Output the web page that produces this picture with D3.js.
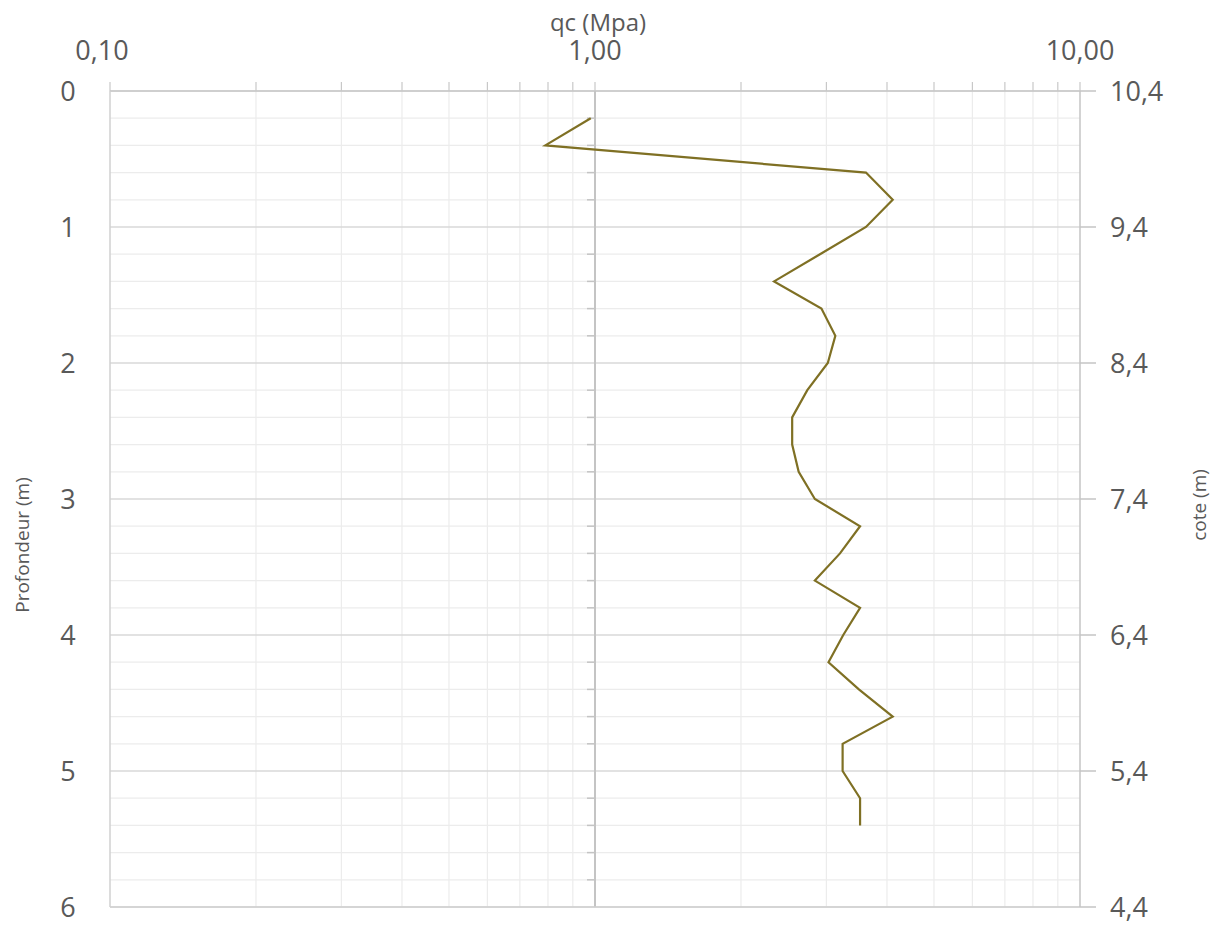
<!DOCTYPE html>
<html>
<head>
<meta charset="utf-8">
<script src="https://d3js.org/d3.v7.min.js"></script>
<style>
  body { margin: 0; background: #fff; }
  text { font-family: "Open Sans", "Noto Sans", sans-serif; fill: #595959; }
</style>
</head>
<body>
<div id="chart"></div>
<script>
// profondeur (m) et qc (MPa)
var profondeur = [0.2, 0.4, 0.6, 0.8, 1.0, 1.2, 1.4, 1.6, 1.8, 2.0, 2.2, 2.4, 2.6, 2.8,
                  3.0, 3.2, 3.4, 3.6, 3.8, 4.0, 4.2, 4.4, 4.6, 4.8, 5.0, 5.2, 5.4];
var qc = [0.98, 0.79, 3.62, 4.11, 3.62, 2.91, 2.34, 2.93, 3.13, 3.02, 2.74, 2.55, 2.55, 2.63,
          2.84, 3.52, 3.20, 2.84, 3.52, 3.25, 3.03, 3.50, 4.11, 3.24, 3.24, 3.52, 3.52];
var xTicks = [0.1, 1, 10];
var yTicks = [0, 1, 2, 3, 4, 5, 6];
var coteTicks = [10.4, 9.4, 8.4, 7.4, 6.4, 5.4, 4.4];

var W = 1222, H = 926;
var mLeft = 110, mRight = 1080, mTop = 91, mBottom = 907;

var svg = d3.select("#chart").append("svg")
    .attr("width", W).attr("height", H);

var x = d3.scaleLog().domain([0.1, 10]).range([mLeft, mRight]);
var y = d3.scaleLinear().domain([0, 6]).range([mTop, mBottom]);
var y2 = d3.scaleLinear().domain([10.4, 4.4]).range([mTop, mBottom]);

// sous-graduations
var minorX = [];
[0.1, 1].forEach(function(d) {
    for (var k = 2; k <= 9; k++) minorX.push(d * k);
});
var minorY = d3.range(0, 30).map(function(i) { return i * 0.2; })
    .filter(function(d) { return Math.abs(d - Math.round(d)) > 1e-6; });

var grid = svg.append("g");
grid.selectAll(".vmin").data(minorX).enter().append("line")
    .attr("x1", function(d) { return x(d); }).attr("x2", function(d) { return x(d); })
    .attr("y1", mTop).attr("y2", mBottom)
    .attr("stroke", "#ececec").attr("stroke-width", 1.2);
grid.selectAll(".hmin").data(minorY).enter().append("line")
    .attr("x1", mLeft).attr("x2", mRight)
    .attr("y1", function(d) { return y(d); }).attr("y2", function(d) { return y(d); })
    .attr("stroke", "#ececec").attr("stroke-width", 1.2);
grid.selectAll(".hmaj").data(yTicks).enter().append("line")
    .attr("x1", mLeft).attr("x2", mRight)
    .attr("y1", function(d) { return y(d); }).attr("y2", function(d) { return y(d); })
    .attr("stroke", "#d9d9d9").attr("stroke-width", 1.5);

// axe du haut (qc)
var axisTop = svg.append("g");
axisTop.append("line").attr("x1", mLeft).attr("x2", mRight)
    .attr("y1", mTop).attr("y2", mTop).attr("stroke", "#c8c8c8").attr("stroke-width", 1.5);
axisTop.selectAll(".tk").data(minorX.concat(xTicks)).enter().append("line")
    .attr("x1", function(d) { return x(d); }).attr("x2", function(d) { return x(d); })
    .attr("y1", mTop - 9).attr("y2", mTop)
    .attr("stroke", "#c8c8c8").attr("stroke-width", 1.2);
axisTop.selectAll("text").data(xTicks).enter().append("text")
    .attr("x", function(d) { return x(d) - (d === 0.1 ? 8 : 0); }).attr("y", 60)
    .attr("text-anchor", "middle").style("font-size", "27px")
    .text(function(d) { return d3.format(".2f")(d).replace(".", ","); });

// axe vertical principal (croise a 1,00)
svg.append("line").attr("x1", x(1)).attr("x2", x(1))
    .attr("y1", mTop).attr("y2", mBottom).attr("stroke", "#c4c4c4").attr("stroke-width", 2);
svg.selectAll(".ytk").data(minorY).enter().append("line")
    .attr("x1", x(1) - 8).attr("x2", x(1))
    .attr("y1", function(d) { return y(d); }).attr("y2", function(d) { return y(d); })
    .attr("stroke", "#c4c4c4").attr("stroke-width", 1.5);

// cadre gauche / bas / droit
svg.append("line").attr("x1", mLeft).attr("x2", mLeft)
    .attr("y1", mTop).attr("y2", mBottom).attr("stroke", "#d0d0d0").attr("stroke-width", 1.5);
svg.append("line").attr("x1", mLeft).attr("x2", mRight)
    .attr("y1", mBottom).attr("y2", mBottom).attr("stroke", "#d0d0d0").attr("stroke-width", 1.5);
svg.append("line").attr("x1", mRight).attr("x2", mRight)
    .attr("y1", mTop).attr("y2", mBottom).attr("stroke", "#c4c4c4").attr("stroke-width", 1.5);
svg.selectAll(".rtk").data(coteTicks).enter().append("line")
    .attr("x1", mRight).attr("x2", mRight + 16)
    .attr("y1", function(d) { return y2(d); }).attr("y2", function(d) { return y2(d); })
    .attr("stroke", "#c4c4c4").attr("stroke-width", 1.5);

// etiquettes gauche
svg.selectAll(".ylab").data(yTicks).enter().append("text")
    .attr("x", 68).attr("y", function(d) { return y(d) + 10; })
    .attr("text-anchor", "middle").style("font-size", "27px")
    .text(function(d) { return d; });

// etiquettes droite
svg.selectAll(".clab").data(coteTicks).enter().append("text")
    .attr("x", 1110).attr("y", function(d) { return y2(d) + 10; })
    .attr("text-anchor", "start").style("font-size", "27px")
    .text(function(d) { return d3.format(".1f")(d).replace(".", ","); });

// titres
svg.append("text").attr("x", 598).attr("y", 31)
    .attr("text-anchor", "middle").style("font-size", "24px").text("qc (Mpa)");
svg.append("text").attr("transform", "translate(29,545) rotate(-90)")
    .attr("text-anchor", "middle").style("font-size", "19px").text("Profondeur (m)");
svg.append("text").attr("transform", "translate(1206,505) rotate(-90)")
    .attr("text-anchor", "middle").style("font-size", "19px").text("cote (m)");

// courbe qc
var pts = profondeur.map(function(d, i) { return [qc[i], d]; });
var line = d3.line()
    .x(function(d) { return x(d[0]); })
    .y(function(d) { return y(d[1]); });
svg.append("path").datum(pts)
    .attr("d", line)
    .attr("fill", "none")
    .attr("stroke", "#7f7024")
    .attr("stroke-width", 2.2)
    .attr("stroke-linejoin", "miter");
</script>
</body>
</html>
